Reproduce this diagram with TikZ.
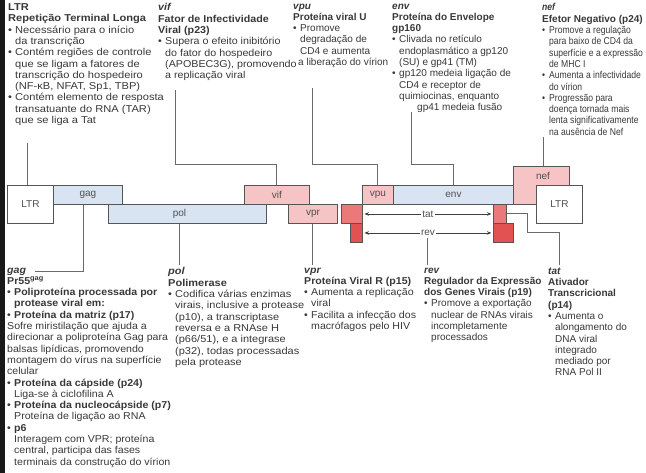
\documentclass[tikz,border=0pt]{standalone}
\usepackage{fontspec}
\setmainfont{Liberation Sans}
\newfontfamily\ltrfont[FakeStretch=1.11]{Liberation Sans}
\newfontfamily\viffont[FakeStretch=1.07]{Liberation Sans}
\newfontfamily\neffont[FakeStretch=0.86]{Liberation Sans}
\newfontfamily\gagfont[FakeStretch=1.06]{Liberation Sans}
\newfontfamily\polfont[FakeStretch=1.10]{Liberation Sans}
\newfontfamily\vprfont[FakeStretch=1.06]{Liberation Sans}
\usetikzlibrary{positioning, calc, arrows.meta}
\definecolor{geneblue}{RGB}{216,228,241}
\definecolor{genepink}{RGB}{246,196,196}
\definecolor{tatred}{RGB}{234,122,122}
\definecolor{revred}{RGB}{226,82,82}
\definecolor{boxedge}{RGB}{85,85,85}
\definecolor{linegray}{RGB}{105,105,105}
\definecolor{txtgray}{RGB}{80,80,80}
\definecolor{edgebar}{RGB}{25,25,25}
\newcommand{\bl}{\makebox[7pt][l]{\textbullet}}
\newcommand{\ct}{\hspace*{7pt}}
\newcommand{\gn}[1]{{\bfseries\itshape #1}}

\begin{document}
\begin{tikzpicture}[x=1pt, y=-1pt,
        gene/.style={rectangle, draw=boxedge, line width=0.9pt, anchor=north west,
                     inner sep=0pt, font=\fontsize{10}{12}\selectfont, text=txtgray},
        ltr/.style={gene, fill=white, minimum width=46pt, minimum height=38pt},
        genelbl/.style={inner sep=0pt, font=\fontsize{10}{12}\selectfont, text=txtgray},
        info/.style={anchor=north west, inner sep=0pt, align=left,
                     font=#1\fontsize{10}{11.3}\selectfont, text=black!78},
        info/.default={},
        conn/.style={draw=linegray, line width=1pt},
        exonspan/.style={<->, >={Stealth[length=4.5pt, width=3.5pt]}, draw=black!75,
                         line width=0.8pt, shorten <=1.5pt, shorten >=1.5pt},
        spanlbl/.style={fill=white, inner sep=1.5pt, font=\fontsize{10}{12}\selectfont, text=txtgray},
    ]
    \useasboundingbox (0,0) rectangle (646,473);
    \fill[edgebar] (0,0) rectangle (4.5,473);

    % ---- Top row: LTR, vif, vpu, env, nef ----
    \node[info=\ltrfont] (TLTR) at (8,3.5)
        {\textbf{LTR}\\
         \textbf{Repetição Terminal Longa}\\
         \bl Necessário para o início\\
         \ct da transcrição\\
         \bl Contém regiões de controle\\
         \ct que se ligam a fatores de\\
         \ct transcrição do hospedeiro\\
         \ct (NF-κB, NFAT, Sp1, TBP)\\
         \bl Contém elemento de resposta\\
         \ct transatuante do RNA (TAR)\\
         \ct que se liga a Tat};
    \node[info=\viffont] (TVIF) at (158,3.5)
        {\gn{vif}\\
         \textbf{Fator de Infectividade}\\
         \textbf{Viral (p23)}\\
         \bl Supera o efeito inibitório\\
         \ct do fator do hospedeiro\\
         \ct (APOBEC3G), promovendo\\
         \ct a replicação viral};
    \node[info] (TVPU) at (293,3.5)
        {\gn{vpu}\\
         \textbf{Proteína viral U}\\
         \bl Promove\\
         \ct degradação de\\
         \ct CD4 e aumenta\\
         \hspace*{5pt}a liberação do vírion};
    \node[info] (TENV) at (392,3.5)
        {\gn{env}\\
         \textbf{Proteína do Envelope}\\
         \textbf{gp160}\\
         \bl Clivada no retículo\\
         \ct endoplasmático a gp120\\
         \ct (SU) e gp41 (TM)\\
         \bl gp120 medeia ligação de\\
         \ct CD4 e receptor de\\
         \ct quimiocinas, enquanto\\
         \hspace*{25pt}gp41 medeia fusão};
    \node[info=\neffont] (TNEF) at (542,3.5)
        {\gn{nef}\\
         {\rmfamily\textbf{Efetor Negativo (p24)}}\\
         \bl Promove a regulação\\
         \ct para baixo de CD4 da\\
         \ct superfície e a expressão\\
         \ct de MHC I\\
         \bl Aumenta a infectividade\\
         \ct do vírion\\
         \bl Progressão para\\
         \ct doença tornada mais\\
         \ct lenta significativamente\\
         \ct na ausência de Nef};

    % ---- Genome map ----
    \node[ltr] (LTRL) at (7,185) {LTR};
    \node[gene, fill=geneblue, minimum width=69pt, minimum height=19pt] (GAG) at (53,185) {gag};
    \node[gene, fill=geneblue, minimum width=158pt, minimum height=19pt] (POL) at (108,204) {};
    \node[genelbl] (polLbl) at ([xshift=-8pt]POL.center) {pol};
    \node[gene, fill=genepink, minimum width=65pt, minimum height=19pt] (VIF) at (244,185) {vif};
    \node[gene, fill=genepink, minimum width=49pt, minimum height=19pt] (VPR) at (288,204) {vpr};
    \node[gene, fill=tatred, minimum width=21pt, minimum height=19pt] (TAT1) at (341,204) {};
    \node[gene, fill=revred, minimum width=12pt, minimum height=19pt] (REV1) at (350,223) {};
    \node[gene, fill=genepink, minimum width=31pt, minimum height=19pt] (VPU) at (362,185) {vpu};
    \node[gene, fill=geneblue, minimum width=120pt, minimum height=19pt] (ENV) at (393,185) {env};
    \node[gene, fill=tatred, minimum width=13pt, minimum height=19pt] (TAT2) at (493,204) {};
    \node[gene, fill=revred, minimum width=20pt, minimum height=19pt] (REV2) at (493,223) {};
    \node[gene, fill=genepink, minimum width=56pt, minimum height=38pt] (NEF) at (513,166) {};
    \node[genelbl] (nefLbl) at (543,176) {nef};
    \node[ltr] (LTRR) at (536,185) {LTR};

    % ---- tat / rev spans ----
    \draw[exonspan] (TAT1.east) -- node[spanlbl] (tatLbl) {tat} (TAT2.west);
    \draw[exonspan] (REV1.east) -- node[spanlbl] (revLbl) {rev} (REV2.west);

    % ---- Bottom row: gag, pol, vpr, rev, tat ----
    \node[info=\gagfont] (TGAG) at (7,267.5)
        {\gn{gag}\\
         \textbf{Pr55\textsuperscript{gag}}\\
         \bl\textbf{Poliproteína processada por}\\
         \ct\textbf{protease viral em:}\\
         \bl\textbf{Proteína da matriz (p17)}\\
         Sofre miristilação que ajuda a\\
         direcionar a poliproteína Gag para\\
         balsas lipídicas, promovendo\\
         montagem do vírus na superfície\\
         celular\\
         \bl\textbf{Proteína da cápside (p24)}\\
         \ct Liga-se à ciclofilina A\\
         \bl\textbf{Proteína da nucleocápside (p7)}\\
         \ct Proteína de ligação ao RNA\\
         \bl\textbf{p6}\\
         \ct Interagem com VPR; proteína\\
         \ct central, participa das fases\\
         \ct terminais da construção do vírion};
    \node[info=\polfont] (TPOL) at (168,267.5)
        {\gn{pol}\\
         \textbf{Polimerase}\\
         \bl Codifica várias enzimas\\
         \ct virais, inclusive a protease\\
         \ct (p10), a transcriptase\\
         \ct reversa e a RNAse H\\
         \ct (p66/51), e a integrase\\
         \ct (p32), todas processadas\\
         \ct pela protease};
    \node[info=\vprfont] (TVPR) at (304,267.5)
        {\gn{vpr}\\
         \textbf{Proteína Viral R (p15)}\\
         \bl Aumenta a replicação\\
         \ct viral\\
         \bl Facilita a infecção dos\\
         \ct macrófagos pelo HIV};
    \node[info] (TREV) at (424,267.5)
        {\gn{rev}\\
         \textbf{Regulador da Expressão}\\
         \textbf{dos Genes Virais (p19)}\\
         \bl Promove a exportação\\
         \ct nuclear de RNAs virais\\
         \ct incompletamente\\
         \ct processados};
    \node[info] (TTAT) at (548,267.5)
        {\gn{tat}\\
         \textbf{Ativador}\\
         \textbf{Transcricional}\\
         \textbf{(p14)}\\
         \bl Aumenta o\\
         \ct alongamento do\\
         \ct DNA viral\\
         \ct integrado\\
         \ct mediado por\\
         \ct RNA Pol II};

    % ---- Connectors: text above -> genes ----
    \coordinate (bend) at (0,165);
    \coordinate (ltrTop) at (27,143);
    \coordinate (vifTop) at (175,90);
    \coordinate (vpuTop) at (312,88);
    \coordinate (envTop) at (411,112);
    \coordinate (nefTop) at (543,137);
    \draw[conn] (ltrTop) -- (ltrTop |- LTRL.north);
    \foreach \s/\g in {vifTop/VIF, vpuTop/VPU, envTop/ENV} {
        \draw[conn] (\s) |- (\g.north |- bend) -- (\g.north);
    }
    \draw[conn] (nefTop) -- (nefTop |- NEF.north);

    % ---- Connectors: genes -> text below ----
    \draw[conn] ([xshift=-4pt]GAG.south) |- ([xshift=28pt, yshift=-4.5pt]TGAG.north west);
    \draw[conn, shorten >=2.5pt] (polLbl.center |- POL.south) -- (polLbl.center |- TPOL.north);
    \draw[conn, shorten >=2.5pt] (VPR.south) -- (VPR.south |- TVPR.north);
    \draw[conn, shorten >=2.5pt] (revLbl.south) -- (revLbl.south |- TREV.north);
    \draw[conn, shorten >=2.5pt] (TAT2.east) -- ++(21,0) |- ([xshift=46pt]REV2.east)
        -- ([xshift=46pt]REV2.east |- TTAT.north);
\end{tikzpicture}
\end{document}
